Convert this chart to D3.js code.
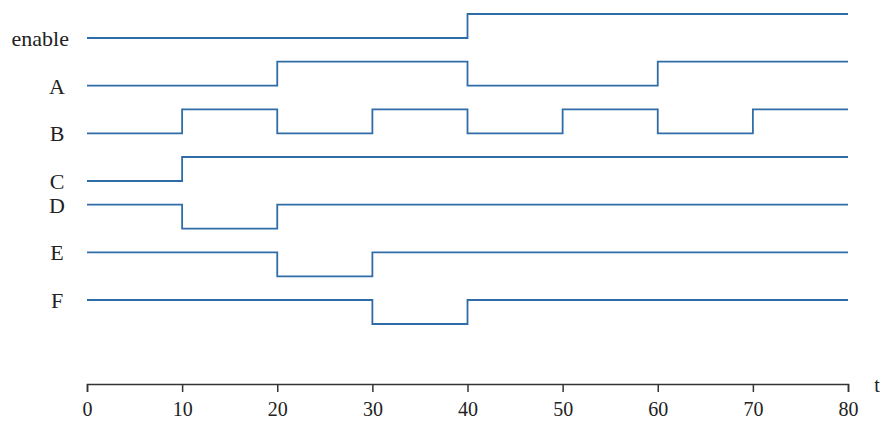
<!DOCTYPE html>
<html><head><meta charset="utf-8">
<script src="https://cdn.jsdelivr.net/npm/d3@7"></script>
<style>body{margin:0;background:#fff}svg{display:block}</style>
</head><body>
<script>
const signalNames = ["enable", "A", "B", "C", "D", "E", "F"];
// step waveforms: [time, level] pairs (level 1 = high, 0 = low)
const enableWave = [[0,0],[40,1],[80,1]];
const aWave = [[0,0],[20,1],[40,0],[60,1],[80,1]];
const bWave = [[0,0],[10,1],[20,0],[30,1],[40,0],[50,1],[60,0],[70,1],[80,1]];
const cWave = [[0,0],[10,1],[80,1]];
const dWave = [[0,1],[10,0],[20,1],[80,1]];
const eWave = [[0,1],[20,0],[30,1],[80,1]];
const fWave = [[0,1],[30,0],[40,1],[80,1]];
const waves = [enableWave, aWave, bWave, cWave, dWave, eWave, fWave];
const tickValues = [0,10,20,30,40,50,60,70,80];
const axisLabel = "t";

const W = 883, H = 422;
const svg = d3.select("body").append("svg").attr("width", W).attr("height", H);

const x = d3.scaleLinear().domain([0, 80]).range([87, 848]);
const row = d3.scalePoint().domain(signalNames).range([38, 324]);
const amp = 24;

const line = d3.line().curve(d3.curveStepAfter);

signalNames.forEach((name, i) => {
  const base = row(name);
  const y = d3.scaleLinear().domain([0, 1]).range([base, base - amp]);
  const w = waves[i];
  svg.append("path")
    .attr("d", line(w.map(d => [x(d[0]), y(d[1])])))
    .attr("fill", "none")
    .attr("stroke", "#2f6ca8")
    .attr("stroke-width", 1.8);
  const isWord = name.length > 1;
  svg.append("text")
    .attr("x", isWord ? 69 : 57)
    .attr("y", y(w[0][1]) + 8)
    .attr("text-anchor", isWord ? "end" : "middle")
    .attr("font-family", "Liberation Serif, Times New Roman, serif")
    .attr("font-size", 22)
    .attr("fill", "#222")
    .text(name);
});

const axis = d3.axisBottom(x).tickValues(tickValues).tickSize(8).tickSizeOuter(8).tickPadding(10);
const g = svg.append("g").attr("transform", "translate(0,384)").call(axis);
g.selectAll("path,line").attr("stroke", "#333").attr("stroke-width", 1.5);
g.selectAll("text")
  .attr("font-family", "Liberation Serif, Times New Roman, serif")
  .attr("font-size", 20)
  .attr("fill", "#222");

svg.append("text")
  .attr("x", 877).attr("y", 392)
  .attr("text-anchor", "middle")
  .attr("font-family", "Liberation Serif, Times New Roman, serif")
  .attr("font-size", 20)
  .attr("fill", "#222")
  .text(axisLabel);
</script>
</body></html>
